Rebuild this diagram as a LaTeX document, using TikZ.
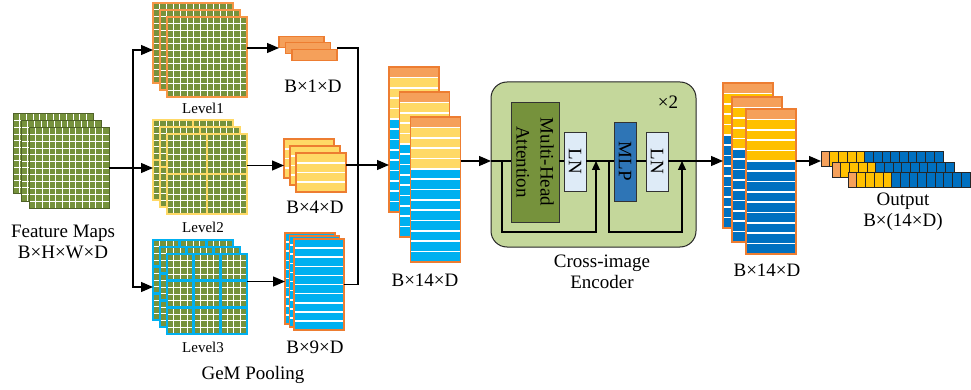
\documentclass[tikz,border=0pt]{standalone}
\usepackage{fontspec}
\setmainfont{Liberation Serif}
\usetikzlibrary{arrows.meta,calc}
\definecolor{fmgreen}{HTML}{76923C}
\definecolor{fmdark}{HTML}{4F6228}
\definecolor{lorange}{HTML}{F5A05A}
\definecolor{lvlorange}{HTML}{F79646}
\definecolor{borange}{HTML}{ED7D31}
\definecolor{yel}{HTML}{FFD966}
\definecolor{cyanb}{HTML}{00B0F0}
\definecolor{gold}{HTML}{FFC000}
\definecolor{dblue}{HTML}{0070C0}
\definecolor{encfill}{HTML}{C4D79B}
\definecolor{lnfill}{HTML}{DEEBF7}
\definecolor{mlpblue}{HTML}{2E75B6}
\newcommand\gridbox[7]{% name, cx, cy, size, border colour, border width, blocks
  \pgfmathsetmacro\gbx{#2-#4/2}
  \pgfmathsetmacro\gby{#3-#4/2}
  \pgfmathsetmacro\gbs{#4/12}
  \pgfmathsetmacro\gbb{#4/#7}
  \pgfmathtruncatemacro\gbn{#7-1}
  \fill[fmgreen] (\gbx,\gby) rectangle ++(#4,#4);
  \foreach \k in {1,...,11}{
    \draw[white, line width=0.9pt] (\gbx+\k*\gbs,\gby) -- ++(0,#4);
    \draw[white, line width=0.9pt] (\gbx,\gby+\k*\gbs) -- ++(#4,0);
  }
  \ifnum\gbn>0
    \foreach \k in {1,...,\gbn}{
      \draw[#5, line width=#6] (\gbx+\k*\gbb,\gby) -- ++(0,#4);
      \draw[#5, line width=#6] (\gbx,\gby+\k*\gbb) -- ++(#4,0);
    }
  \fi
  \node[draw=#5, line width=#6, minimum width=#4pt, minimum height=#4pt, inner sep=0pt, outer sep=0pt] (#1) at (#2,#3) {};
}
\newcommand\bandbox[8]{% name, cx, cy, w, h, n, colour list, border colour
  \pgfmathsetmacro\bbx{#2-#4/2}
  \pgfmathsetmacro\bby{#3-#5/2}
  \pgfmathsetmacro\bbh{#5/#6}
  \pgfmathtruncatemacro\bbn{#6-1}
  \foreach \c [count=\k from 0] in {#7}{
    \fill[\c] (\bbx,\bby+\k*\bbh) rectangle ++(#4,\bbh);
  }
  \foreach \k in {1,...,\bbn}{
    \draw[white, line width=1.6pt] (\bbx,\bby+\k*\bbh) -- ++(#4,0);
  }
  \node[draw=#8, line width=1.2pt, minimum width=#4pt, minimum height=#5pt, inner sep=0pt, outer sep=0pt] (#1) at (#2,#3) {};
}
\newcommand\cellrow[3]{% name, x0, y0
  \foreach \c [count=\k from 0] in {lorange,gold,gold,gold,gold,dblue,dblue,dblue,dblue,dblue,dblue,dblue,dblue,dblue}{
    \filldraw[fill=\c, draw=black!85, line width=0.6pt] (#2+\k*8.7,#3) rectangle ++(8.7,15);
  }
  \node[inner sep=0pt, outer sep=0pt, minimum width=121.8pt, minimum height=15pt] (#1) at (#2+60.9,#3+7.5) {};
}
\begin{document}
\begin{tikzpicture}[x=1pt, y=-1pt,
  arr/.style={line width=1.2pt, -{Triangle[length=12pt,width=10pt]}},
  sarr/.style={line width=1.2pt, -{Triangle[length=9pt,width=8pt]}},
  ln/.style={line width=1.2pt},
  lbl/.style={font=\fontsize{19}{20.5}\selectfont, align=center, inner sep=0pt},
  lvl/.style={font=\fontsize{15}{16}\selectfont, inner sep=0pt},
  encbox/.style={draw=black!80, line width=0.8pt, inner sep=0pt, outer sep=0pt},
  rot/.style={rotate=-90, font=\fontsize{19}{24}\selectfont, align=center, inner sep=0pt}]
\useasboundingbox (0,0) rectangle (971,390);

% feature maps
\gridbox{fm1}{53}{154}{80}{fmdark}{1pt}{1}
\gridbox{fm2}{61}{161}{80}{fmdark}{1pt}{1}
\gridbox{fm3}{69}{168}{80}{fmdark}{1pt}{1}
\node[lbl] (fmlab) at (63,242) {Feature Maps\\B×H×W×D};

% level 1
\gridbox{l1a}{193}{43}{80}{lvlorange}{2.8pt}{1}
\gridbox{l1b}{200}{50}{80}{lvlorange}{2.8pt}{1}
\gridbox{l1c}{207}{57}{80}{lvlorange}{2.8pt}{1}
\node[lvl] (lv1) at (203,108) {Level1};
% level 2
\gridbox{l2a}{193}{160}{80}{yel}{2.8pt}{2}
\gridbox{l2b}{200}{167}{80}{yel}{2.8pt}{2}
\gridbox{l2c}{207}{174}{80}{yel}{2.8pt}{2}
\node[lvl] (lv2) at (203,227) {Level2};
% level 3
\gridbox{l3a}{193}{280}{80}{cyanb}{2.8pt}{3}
\gridbox{l3b}{200}{287}{80}{cyanb}{2.8pt}{3}
\gridbox{l3c}{207}{294}{80}{cyanb}{2.8pt}{3}
\node[lvl] (lv3) at (203,347) {Level3};
\node[lbl] (gem) at (253,375) {GeM Pooling};

% pooled outputs
\foreach \n/\x/\y in {o1a/301.5/42, o1b/308/48, o1c/314.5/55}
  \node[draw=borange, fill=lorange, line width=1.2pt, minimum width=45pt, minimum height=11pt, inner sep=0pt, outer sep=0pt] (\n) at (\x,\y) {};
\node[lbl] (b1) at (313,86) {B×1×D};
\bandbox{o2a}{309}{158.5}{50}{39}{4}{yel,yel,yel,yel}{borange}
\bandbox{o2b}{315}{165.5}{50}{39}{4}{yel,yel,yel,yel}{borange}
\bandbox{o2c}{321}{172.5}{50}{39}{4}{yel,yel,yel,yel}{borange}
\node[lbl] (b4) at (315,207) {B×4×D};
\bandbox{o3a}{310}{278.5}{50}{91}{10}{cyanb,cyanb,cyanb,cyanb,cyanb,cyanb,cyanb,cyanb,cyanb,cyanb}{borange}
\bandbox{o3b}{314.5}{281.5}{50}{91}{10}{cyanb,cyanb,cyanb,cyanb,cyanb,cyanb,cyanb,cyanb,cyanb,cyanb}{borange}
\bandbox{o3c}{319}{284.5}{50}{91}{10}{cyanb,cyanb,cyanb,cyanb,cyanb,cyanb,cyanb,cyanb,cyanb,cyanb}{borange}
\node[lbl] (b9) at (315,347) {B×9×D};

% concatenated
\bandbox{s1a}{414}{139.5}{50}{145}{14}{lorange,yel,yel,yel,yel,cyanb,cyanb,cyanb,cyanb,cyanb,cyanb,cyanb,cyanb,cyanb}{borange}
\bandbox{s1b}{424.5}{164.5}{50}{145}{14}{lorange,yel,yel,yel,yel,cyanb,cyanb,cyanb,cyanb,cyanb,cyanb,cyanb,cyanb,cyanb}{borange}
\bandbox{s1c}{435.5}{189.5}{50}{145}{14}{lorange,yel,yel,yel,yel,cyanb,cyanb,cyanb,cyanb,cyanb,cyanb,cyanb,cyanb,cyanb}{borange}
\node[lbl] (b14a) at (425,280) {B×14×D};

% encoder
\node[draw=black!85, fill=encfill, rounded corners=16pt, line width=1pt, minimum width=205pt, minimum height=165pt, inner sep=0pt, outer sep=0pt] (enc) at (593.5,164.5) {};
\node[encbox, fill=fmgreen, minimum width=48pt, minimum height=120pt] (mha) at (535,162) {};
\node[rot] (mhat) at (mha.center) {Multi-Head\\Attention};
\node[encbox, fill=lnfill, minimum width=22pt, minimum height=59pt] (ln1) at (575,161.5) {};
\node[rot] (ln1t) at (ln1.center) {LN};
\node[encbox, fill=mlpblue, minimum width=22pt, minimum height=79pt] (mlp) at (625,161.5) {};
\node[rot] (mlpt) at (mlp.center) {MLP};
\node[encbox, fill=lnfill, minimum width=22pt, minimum height=59pt] (ln2) at (657,161.5) {};
\node[rot] (ln2t) at (ln2.center) {LN};
\node[lbl] (times2) at (668,102) {×2};
\node[lbl] (enclab) at (602,272) {Cross-image\\Encoder};

% output stack
\bandbox{s2a}{748}{155.5}{50}{145}{14}{lorange,gold,gold,gold,gold,dblue,dblue,dblue,dblue,dblue,dblue,dblue,dblue,dblue}{borange}
\bandbox{s2b}{757}{169.5}{50}{145}{14}{lorange,gold,gold,gold,gold,dblue,dblue,dblue,dblue,dblue,dblue,dblue,dblue,dblue}{borange}
\bandbox{s2c}{771}{181.5}{50}{145}{14}{lorange,gold,gold,gold,gold,dblue,dblue,dblue,dblue,dblue,dblue,dblue,dblue,dblue}{borange}
\node[lbl] (b14b) at (767,270) {B×14×D};

% output rows
\cellrow{r1}{821}{151}
\cellrow{r2}{832}{162}
\cellrow{r3}{848}{172}
\node[lbl] (outlab) at (903,211.5) {Output\\B×(14×D)};

% connectors
\coordinate (sp) at (133,168);
\coordinate (merge) at (358,165);
\coordinate (ein) at (491,161);
\draw[arr] (fm3.east) -- (fm3.east -| l2a.west);
\draw[arr] (sp) |- (l1a.west |- l1b.center);
\draw[arr] (sp) |- (l3a.west |- l3b.center);
\draw[arr] (l1c.east |- o1b.center) -- (o1a.west |- o1b.center);
\draw[arr] (l2c.east |- o2b.center) -- (o2a.west |- o2b.center);
\draw[arr] (l3c.east |- o3b.center) -- (o3a.west |- o3b.center);
\draw[ln] (o1c.east |- o1b.center) -| (merge);
\draw[ln] (o3c.east) -| (merge);
\draw[arr] (o2c.east |- merge) -- (s1a.west |- merge);
\draw[arr] (s1c.east |- ein) -- (ein);
\draw[ln] (ein) -- (mha.west |- ein);
\draw[ln] (mha.east |- ein) -- (ln1.west |- ein);
\draw[ln] (ln1.east |- ein) -- (mlp.west |- ein);
\draw[ln] (mlp.east |- ein) -- (ln2.west |- ein);
\draw[ln] (ln2.east |- ein) -- (enc.east |- ein);
\coordinate (r1s) at (502,161);
\coordinate (r1e) at (596,161);
\coordinate (r2s) at (609,161);
\coordinate (r2e) at (682,161);
\draw[sarr] (r1s) -- ++(0,71) -| (r1e);
\draw[sarr] (r2s) -- ++(0,71) -| (r2e);
\draw[arr] (enc.east |- ein) -- (s2a.west |- ein);
\draw[arr] (s2c.east |- ein) -- (r1.west |- ein);
\end{tikzpicture}
\end{document}
